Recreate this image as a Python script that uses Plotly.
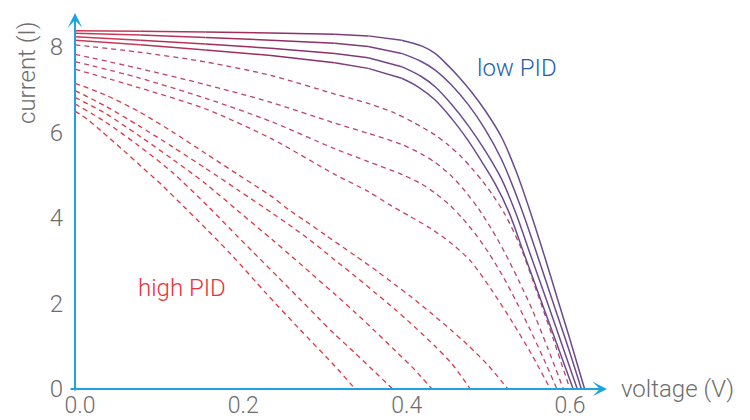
import plotly.graph_objects as go

# ---------------- data (voltage V, current A) ----------------
# low PID (solid) curves
S1_v = [0.000, 0.080, 0.160, 0.240, 0.318, 0.359, 0.400, 0.425, 0.440, 0.455, 0.470, 0.485, 0.502, 0.522, 0.540, 0.556, 0.575, 0.590, 0.607, 0.624]
S1_i = [8.38, 8.37, 8.35, 8.33, 8.30, 8.26, 8.16, 8.02, 7.86, 7.60, 7.30, 6.96, 6.52, 5.90, 5.10, 4.23, 3.10, 2.16, 1.10, 0.00]
S2_v = [0.000, 0.080, 0.160, 0.240, 0.318, 0.359, 0.400, 0.424, 0.441, 0.461, 0.482, 0.502, 0.522, 0.545, 0.564, 0.583, 0.602, 0.620]
S2_i = [8.32, 8.28, 8.22, 8.16, 8.09, 8.01, 7.85, 7.66, 7.46, 7.11, 6.64, 6.08, 5.38, 4.30, 3.25, 2.16, 1.08, 0.00]
S3_v = [0.000, 0.080, 0.160, 0.240, 0.318, 0.359, 0.400, 0.424, 0.441, 0.461, 0.482, 0.502, 0.522, 0.539, 0.558, 0.577, 0.596, 0.615]
S3_i = [8.24, 8.16, 8.07, 7.97, 7.85, 7.75, 7.54, 7.31, 7.07, 6.66, 6.15, 5.58, 4.92, 4.15, 3.12, 2.10, 1.05, 0.00]
S4_v = [0.000, 0.080, 0.160, 0.240, 0.318, 0.359, 0.400, 0.420, 0.441, 0.461, 0.480, 0.498, 0.515, 0.531, 0.551, 0.570, 0.590, 0.610]
S4_i = [8.16, 8.05, 7.93, 7.80, 7.63, 7.50, 7.27, 7.07, 6.76, 6.33, 5.85, 5.32, 4.78, 4.15, 3.10, 2.10, 1.05, 0.00]

# intermediate / high PID (dashed) curves
D1_v = [0.000, 0.078, 0.160, 0.241, 0.318, 0.359, 0.392, 0.416, 0.441, 0.457, 0.473, 0.486, 0.499, 0.512, 0.526, 0.545, 0.566, 0.586, 0.606]
D1_i = [8.05, 7.88, 7.65, 7.33, 6.90, 6.68, 6.45, 6.22, 5.94, 5.71, 5.43, 5.16, 4.86, 4.52, 4.10, 3.35, 2.25, 1.15, 0.00]
D2_v = [0.000, 0.078, 0.160, 0.241, 0.318, 0.359, 0.400, 0.424, 0.441, 0.461, 0.478, 0.494, 0.510, 0.526, 0.543, 0.560, 0.579, 0.598]
D2_i = [7.83, 7.50, 7.12, 6.70, 6.22, 5.98, 5.72, 5.50, 5.30, 4.98, 4.62, 4.22, 3.74, 3.20, 2.55, 1.85, 0.95, 0.00]
D3_v = [0.000, 0.078, 0.160, 0.241, 0.318, 0.359, 0.400, 0.424, 0.441, 0.459, 0.475, 0.492, 0.508, 0.525, 0.541, 0.557, 0.574, 0.590]
D3_i = [7.66, 7.28, 6.80, 6.25, 5.62, 5.32, 5.02, 4.80, 4.58, 4.30, 3.98, 3.58, 3.14, 2.60, 2.02, 1.40, 0.70, 0.00]
D4_v = [0.000, 0.078, 0.160, 0.241, 0.318, 0.359, 0.386, 0.410, 0.435, 0.460, 0.485, 0.510, 0.535, 0.560, 0.582]
D4_i = [7.48, 7.05, 6.55, 5.85, 5.02, 4.62, 4.30, 4.04, 3.76, 3.42, 2.98, 2.32, 1.58, 0.78, 0.00]
D5_v = [0.000, 0.037, 0.078, 0.119, 0.160, 0.200, 0.241, 0.262, 0.282, 0.306, 0.343, 0.371, 0.392, 0.412, 0.437, 0.461, 0.482, 0.506, 0.530]
D5_i = [7.15, 6.88, 6.49, 6.02, 5.51, 5.01, 4.50, 4.19, 3.93, 3.61, 3.12, 2.74, 2.44, 2.15, 1.76, 1.37, 1.01, 0.55, 0.00]
D6_v = [0.000, 0.037, 0.078, 0.119, 0.160, 0.200, 0.241, 0.266, 0.290, 0.318, 0.343, 0.367, 0.392, 0.416, 0.441, 0.461, 0.484]
D6_i = [6.98, 6.62, 6.16, 5.67, 5.16, 4.65, 4.12, 3.79, 3.45, 3.02, 2.64, 2.26, 1.86, 1.45, 1.00, 0.60, 0.00]
D7_v = [0.000, 0.037, 0.078, 0.119, 0.160, 0.200, 0.241, 0.266, 0.290, 0.318, 0.343, 0.367, 0.392, 0.416, 0.437]
D7_i = [6.82, 6.45, 5.93, 5.38, 4.80, 4.16, 3.50, 3.09, 2.69, 2.22, 1.79, 1.36, 0.90, 0.45, 0.00]
D8_v = [0.000, 0.037, 0.078, 0.119, 0.164, 0.200, 0.225, 0.249, 0.274, 0.298, 0.318, 0.343, 0.367, 0.389]
D8_i = [6.67, 6.25, 5.69, 5.07, 4.25, 3.55, 3.07, 2.61, 2.13, 1.66, 1.28, 0.84, 0.40, 0.00]
D9_v = [0.000, 0.015, 0.033, 0.057, 0.082, 0.107, 0.133, 0.151, 0.192, 0.233, 0.274, 0.317, 0.343]
D9_i = [6.50, 6.31, 6.02, 5.62, 5.19, 4.76, 4.27, 3.93, 3.13, 2.26, 1.42, 0.56, 0.00]

x_ticks = [0.0, 0.2, 0.4, 0.6]
x_tick_labels = ["0.0", "0.2", "0.4", "0.6"]
y_ticks = [0, 2, 4, 6, 8]
y_tick_labels = ["0", "2", "4", "6", "8"]

solid_curves = [(S1_v, S1_i), (S2_v, S2_i), (S3_v, S3_i), (S4_v, S4_i)]
dashed_curves = [(D1_v, D1_i), (D2_v, D2_i), (D3_v, D3_i), (D4_v, D4_i), (D5_v, D5_i),
                 (D6_v, D6_i), (D7_v, D7_i), (D8_v, D8_i), (D9_v, D9_i)]
dashed_colors = ["#b5456e", "#bb456b", "#c24567", "#cc4262", "#d93a4d",
                 "#df3646", "#e33542", "#e43441", "#e43441"]

# ---------------- styling helpers ----------------
def hex2rgb(h):
    h = h.lstrip("#")
    return [int(h[i:i + 2], 16) for i in (0, 2, 4)]

grad_stops = [(0.0, "#d43c58"), (0.25, "#952a5c"), (0.42, "#6c4a90")]

def grad_color(v):
    if v <= grad_stops[0][0]:
        return grad_stops[0][1]
    for (v0, c0), (v1, c1) in zip(grad_stops[:-1], grad_stops[1:]):
        if v <= v1:
            t = (v - v0) / (v1 - v0)
            a, b = hex2rgb(c0), hex2rgb(c1)
            return "rgb(%d,%d,%d)" % tuple(round(a[k] + (b[k] - a[k]) * t) for k in range(3))
    return grad_stops[-1][1]

fig = go.Figure()

# dashed curves
for (v, i), col in zip(dashed_curves, dashed_colors):
    fig.add_trace(go.Scatter(x=v, y=i, mode="lines",
                             line=dict(color=col, width=1.3, dash="5px,4px", shape="spline", smoothing=0.8),
                             hoverinfo="skip"))

# solid curves with a red -> purple gradient along voltage
for v, i in solid_curves:
    split = v.index(0.400) if 0.400 in v else 6
    for k in range(split):
        fig.add_trace(go.Scatter(x=v[k:k + 2], y=i[k:k + 2], mode="lines",
                                 line=dict(color=grad_color((v[k] + v[k + 1]) / 2), width=1.5),
                                 hoverinfo="skip"))
    fig.add_trace(go.Scatter(x=v[split:], y=i[split:], mode="lines",
                             line=dict(color=grad_stops[-1][1], width=1.5, shape="spline", smoothing=1.0),
                             hoverinfo="skip"))

axis_blue = "#1ba3e4"
gray = "#6d6d6d"
font_family = "Roboto, 'Helvetica Neue', Arial, sans-serif"

annotations = [
    # x axis arrow
    dict(x=0.6514, y=0, ax=-0.0073, ay=0, xref="x", yref="y", axref="x", ayref="y",
         text="", showarrow=True, arrowhead=3, arrowsize=1.2, arrowwidth=2, arrowcolor=axis_blue, standoff=0),
    # y axis arrow
    dict(x=0, y=8.795, ax=0, ay=-0.07, xref="x", yref="y", axref="x", ayref="y",
         text="", showarrow=True, arrowhead=3, arrowsize=1.2, arrowwidth=2, arrowcolor=axis_blue, standoff=0),
    dict(x=0.7377, y=0, xref="x", yref="y", text="voltage (V)", showarrow=False,
         font=dict(size=24, color=gray, family=font_family, weight=300), xanchor="center", yanchor="middle"),
    dict(x=0, y=7.392, xref="paper", yref="y", xshift=-41, text="current (I)", showarrow=False,
         textangle=-90, font=dict(size=24, color=gray, family=font_family, weight=300),
         xanchor="center", yanchor="middle"),
    dict(x=0.541, y=7.51, xref="x", yref="y", text="low PID", showarrow=False,
         font=dict(size=24, color="#1f5fae", family=font_family, weight=300), xanchor="center", yanchor="middle"),
    dict(x=0.131, y=2.36, xref="x", yref="y", text="high PID", showarrow=False,
         font=dict(size=24, color="#e8333c", family=font_family, weight=300), xanchor="center", yanchor="middle"),
]

fig.update_layout(
    template="none",
    width=750, height=420,
    margin=dict(l=68, r=0, t=0, b=28, pad=0),
    plot_bgcolor="white", paper_bgcolor="white",
    showlegend=False,
    hovermode=False,
    annotations=annotations,
    xaxis=dict(range=[-0.00857, 0.8265], tickvals=x_ticks, ticktext=x_tick_labels,
               showgrid=False, zeroline=False, showline=False, ticks="", automargin=False,
               tickfont=dict(size=23, color=gray, family=font_family, weight=300),
               ticklabelshift=5, ticklabelstandoff=-3),
    yaxis=dict(range=[-0.0702, 9.0994], tickvals=y_ticks, ticktext=y_tick_labels,
               showgrid=False, zeroline=False, showline=False, ticks="", automargin=False,
               tickfont=dict(size=24, color=gray, family=font_family, weight=300),
               ticklabelstandoff=4),
)

fig.write_html("out.html", config={"displayModeBar": False},
               post_script="document.body.style.margin='0';document.body.style.overflow='hidden';")
